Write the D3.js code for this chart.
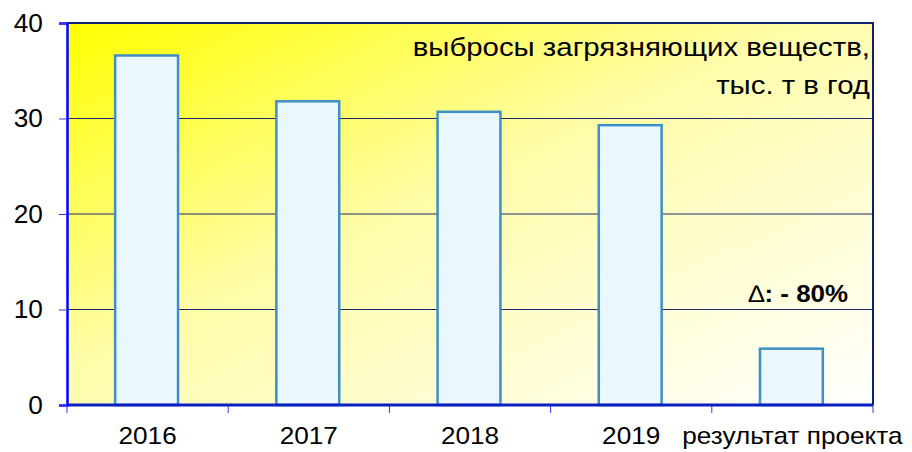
<!DOCTYPE html>
<html>
<head>
<meta charset="utf-8">
<script src="https://cdn.jsdelivr.net/npm/d3@7"></script>
<style>
  body { margin: 0; background: #fff; }
  text { font-family: Arial, "Liberation Sans", sans-serif; fill: #000; }
</style>
</head>
<body>
<script>
// Data
var categories = ["2016", "2017", "2018", "2019", "результат проекта"];
var emissions = [36.6, 31.8, 30.7, 29.3, 5.9];
var yTicks = [0, 10, 20, 30, 40];

// Page dimensions
var margin = { top: 23, right: 39, bottom: 47, left: 67 },
  width = 912 - margin.left - margin.right,
  height = 452 - margin.top - margin.bottom;

var svg = d3.select("body")
  .append("svg")
  .attr("width", 912)
  .attr("height", 452);

// Background gradient, yellow to white
var grad = svg.append("defs").append("linearGradient")
  .attr("id", "bg")
  .attr("x1", "0%").attr("y1", "0%")
  .attr("x2", "100%").attr("y2", "100%");
grad.append("stop").attr("offset", "0%").attr("stop-color", "#ffff00");
grad.append("stop").attr("offset", "45%").attr("stop-color", "#fffca8");
grad.append("stop").attr("offset", "100%").attr("stop-color", "#ffffff");

var chart = svg.append("g")
  .attr("transform", "translate(" + margin.left + "," + margin.top + ")");

// Scales
var x = d3.scaleBand()
  .domain(categories)
  .range([0, width])
  .paddingInner(0);

var y = d3.scaleLinear()
  .domain([0, 40])
  .range([height, 0]);

// Plot area
chart.append("rect")
  .attr("width", width)
  .attr("height", height)
  .attr("fill", "url(#bg)");

// Grid lines
chart.selectAll(".grid")
  .data(yTicks.filter(function(d) { return d > 0 && d < 40; }))
  .enter().append("line")
  .attr("x1", 0)
  .attr("x2", width)
  .attr("y1", function(d) { return y(d); })
  .attr("y2", function(d) { return y(d); })
  .attr("stroke", "#1b2a6b")
  .attr("stroke-width", 1);

// Bars
var barW = x.bandwidth() * 0.39;
chart.selectAll(".bar")
  .data(emissions)
  .enter().append("rect")
  .attr("class", "bar")
  .attr("x", function(d, i) { return x(categories[i]) + (x.bandwidth() - barW) / 2 - 1; })
  .attr("y", function(d) { return y(d); })
  .attr("width", barW)
  .attr("height", function(d) { return height - y(d); })
  .attr("fill", "#eaf8fd")
  .attr("stroke", "#3d8fc6")
  .attr("stroke-width", 2.5);

// Top and right border
chart.append("path")
  .attr("d", "M0,0H" + width + "V" + height)
  .attr("fill", "none")
  .attr("stroke", "#10206e")
  .attr("stroke-width", 2);

// Y axis
var yAxis = d3.axisLeft(y).tickValues(yTicks).tickSize(8).tickPadding(15);
var gy = chart.append("g").call(yAxis);
gy.select(".domain").attr("stroke", "#0000ff").attr("stroke-width", 2.5);
gy.selectAll(".tick line").attr("stroke", "#3030ff").attr("stroke-width", 1);
gy.selectAll(".tick text")
  .attr("transform", "scale(1.05,1)")
  .style("font-size", "25px")
  .style("font-family", "Arial, 'Liberation Sans', sans-serif");

// X axis: ticks at category boundaries
var bounds = categories.map(function(c) { return x(c); }).concat([width]);
chart.selectAll(".xtick")
  .data(bounds)
  .enter().append("line")
  .attr("x1", function(d) { return d; })
  .attr("x2", function(d) { return d; })
  .attr("y1", height)
  .attr("y2", height + 8)
  .attr("stroke", "#3030ff")
  .attr("stroke-width", 1);

chart.append("line")
  .attr("x1", 0)
  .attr("x2", width)
  .attr("y1", height)
  .attr("y2", height)
  .attr("stroke", "#0a1fc0")
  .attr("stroke-width", 3);

// helper: place a text stretched sideways, as in the original
function label(px, py, anchor, size, weight, sx, str) {
  return chart.append("text")
    .attr("transform", "translate(" + px + "," + py + ") scale(" + sx + ",1)")
    .attr("text-anchor", anchor)
    .style("font-size", size)
    .style("font-weight", weight)
    .text(str);
}

categories.forEach(function(c) {
  label(x(c) + x.bandwidth() / 2, height + 39, "middle", "24px", "normal", 1.09, c);
});

// Captions
label(width - 3, 33, "end", "26px", "normal", 1.13, "выбросы загрязняющих веществ,");
label(width - 3, 71, "end", "26px", "normal", 1.13, "тыс. т в год");

var delta = label(width - 25, 279, "end", "24px", "bold", 1.08, "");
delta.append("tspan").style("font-weight", "normal").text("∆");
delta.append("tspan").text(": - 80%");
</script>
</body>
</html>
